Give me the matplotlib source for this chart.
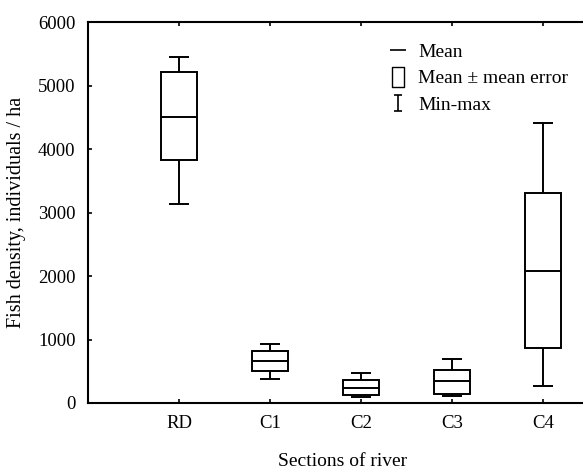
"""Fish density by river section: mean, mean ± error box, min-max whiskers."""

import matplotlib
matplotlib.use("Agg")
import matplotlib.pyplot as plt
from matplotlib.lines import Line2D
from matplotlib.path import Path

plt.rcParams["font.family"] = ["Liberation Serif", "DejaVu Serif"]

sections = ["RD", "C1", "C2", "C3", "C4"]
means = [4505, 661, 236, 341, 2083]
box_lo = [3827, 509, 126, 137, 861]
box_hi = [5220, 824, 362, 515, 3302]
mins = [3134, 383, 94, 110, 268]
maxs = [5452, 929, 467, 693, 4414]

y_ticks = [0, 1000, 2000, 3000, 4000, 5000, 6000]


def main() -> None:
    fig = plt.figure(figsize=(5.83, 4.70), dpi=100)
    ax = fig.add_axes([0.151, 0.1426, 0.849, 0.81])

    pos = list(range(1, len(sections) + 1))
    heights = [h - l for h, l in zip(box_hi, box_lo)]
    lw = 1.4
    box_w = 0.40
    cap_w = 0.22

    ax.bar(pos, heights, bottom=box_lo, width=box_w, fill=False,
           edgecolor="black", linewidth=lw, zorder=3)
    ax.hlines(means, [p - box_w / 2 for p in pos], [p + box_w / 2 for p in pos],
              color="black", linewidth=lw, zorder=3)
    ax.vlines(pos, mins, box_lo, color="black", linewidth=lw)
    ax.vlines(pos, box_hi, maxs, color="black", linewidth=lw)
    ax.hlines(mins, [p - cap_w / 2 for p in pos], [p + cap_w / 2 for p in pos],
              color="black", linewidth=lw)
    ax.hlines(maxs, [p - cap_w / 2 for p in pos], [p + cap_w / 2 for p in pos],
              color="black", linewidth=lw)

    ax.set_xlim(0, 5.44)
    ax.set_ylim(0, 6000)
    ax.set_xticks(pos)
    ax.set_xticklabels(sections)
    ax.set_yticks(y_ticks)
    ax.tick_params(direction="in", length=3, width=1.2, labelsize=13.5,
                   top=True, pad=9)
    ax.tick_params(axis="x", pad=9)
    for side in ["left", "bottom", "top"]:
        ax.spines[side].set_linewidth(1.5)
    ax.spines["right"].set_visible(False)

    ax.set_ylabel("Fish density, individuals / ha", fontsize=14.5)
    ax.yaxis.set_label_coords(-0.125, 0.5)
    ax.set_xlabel("Sections of river", fontsize=14)
    ax.xaxis.set_label_coords(0.514, -0.132)

    # legend markers
    box_path = Path([(-0.6, -1), (0.6, -1), (0.6, 1), (-0.6, 1), (-0.6, -1)],
                    [Path.MOVETO, Path.LINETO, Path.LINETO, Path.LINETO, Path.CLOSEPOLY])
    ibeam = Path([(-0.5, -1), (0.5, -1), (0, -1), (0, 1), (-0.5, 1), (0.5, 1)],
                 [Path.MOVETO, Path.LINETO, Path.MOVETO, Path.LINETO, Path.MOVETO, Path.LINETO])
    handles = [
        Line2D([], [], color="black", marker="_", markersize=11, linestyle="none",
               markeredgewidth=1.2),
        Line2D([], [], color="black", marker=box_path, markersize=14, linestyle="none",
               markerfacecolor="none", markeredgewidth=1.0),
        Line2D([], [], color="black", marker=ibeam, markersize=11.5, linestyle="none",
               markerfacecolor="none", markeredgewidth=1.2),
    ]
    labels = ["Mean", "Mean \u00b1 mean error", "Min-max"]
    ax.legend(handles, labels, loc="upper left", bbox_to_anchor=(0.59, 0.965),
              frameon=False, fontsize=14, handlelength=1.0, handletextpad=0.55,
              labelspacing=0.45, borderaxespad=0)

    fig.savefig("out.png", dpi=100)


if __name__ == "__main__":
    main()
